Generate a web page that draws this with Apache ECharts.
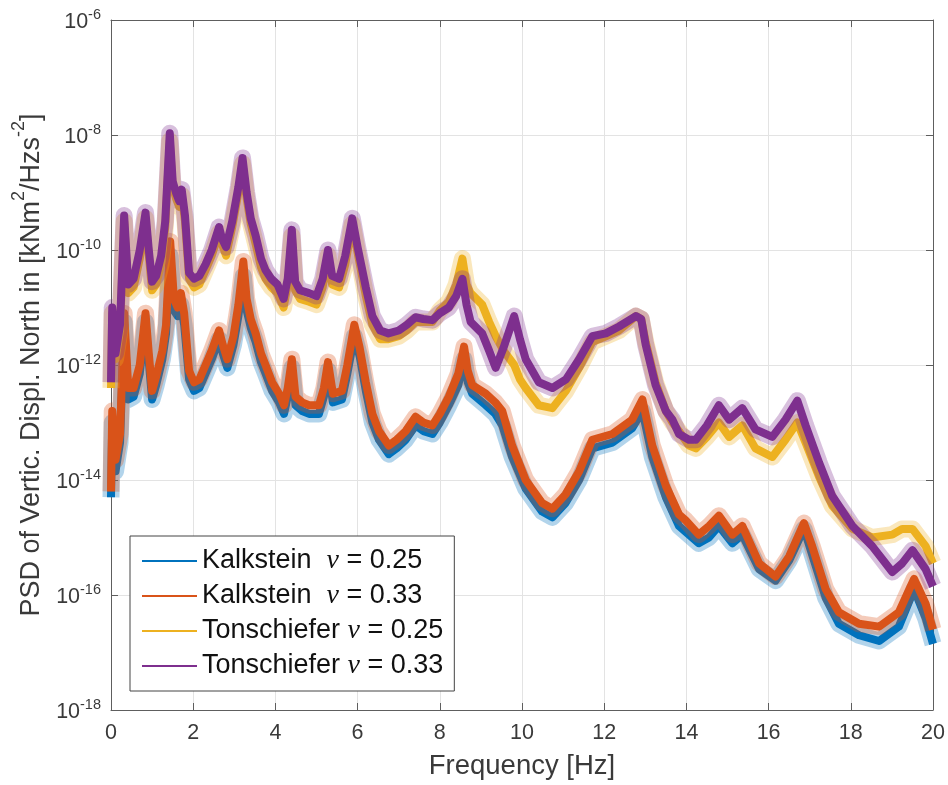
<!DOCTYPE html>
<html>
<head>
<meta charset="utf-8">
<script src="https://cdn.jsdelivr.net/npm/echarts@6/dist/echarts.min.js"></script>
<style>
  html, body { margin: 0; padding: 0; background: #fff; }
  #chart { width: 948px; height: 785px; }
</style>
</head>
<body>
<div id="chart"></div>
<script>
// PSD of vertical displacement (north), stored as log10 of kNm^2/Hzs^-2
// Frequency axis ticks
const xTicks = [0, 2, 4, 6, 8, 10, 12, 14, 16, 18, 20];
// Decade exponents shown on the y axis
const yExponents = [-18, -16, -14, -12, -10, -8, -6];

// Tonschiefer (both nu) sample frequencies [Hz]
const freqTon = [0.00, 0.03, 0.11, 0.22, 0.32, 0.42, 0.55, 0.70, 0.84, 0.92, 1.00, 1.10, 1.22, 1.32, 1.43, 1.50, 1.58, 1.66, 1.72, 1.80, 1.90, 2.02, 2.15, 2.30, 2.45, 2.63, 2.70, 2.80, 2.95, 3.10, 3.20, 3.30, 3.40, 3.52, 3.65, 3.76, 3.90, 4.05, 4.20, 4.30, 4.40, 4.48, 4.60, 4.82, 5.00, 5.15, 5.28, 5.38, 5.55, 5.70, 5.87, 6.00, 6.20, 6.36, 6.55, 6.75, 7.00, 7.20, 7.41, 7.60, 7.82, 8.00, 8.22, 8.40, 8.55, 8.65, 8.75, 9.03, 9.20, 9.36, 9.55, 9.81, 9.95, 10.09, 10.41, 10.74, 11.07, 11.39, 11.71, 12.04, 12.36, 12.77, 12.90, 13.01, 13.25, 13.50, 13.66, 13.82, 14.06, 14.23, 14.50, 14.79, 15.04, 15.36, 15.68, 16.09, 16.41, 16.70, 16.90, 17.23, 17.55, 18.04, 18.52, 19.01, 19.25, 19.50, 19.82, 20.00];

// Tonschiefer nu = 0.33
const ton033 = [-12.3, -11.0, -11.8, -11.3, -9.4, -10.6, -10.5, -10.0, -9.35, -10.0, -10.55, -10.45, -10.1, -9.5, -7.97, -8.8, -9.0, -9.15, -8.95, -9.4, -10.4, -10.5, -10.45, -10.25, -10.0, -9.6, -9.8, -9.95, -9.5, -8.9, -8.4, -9.0, -9.45, -9.75, -10.15, -10.35, -10.5, -10.6, -10.85, -10.5, -9.65, -10.55, -10.7, -10.75, -10.8, -10.5, -10.0, -10.45, -10.5, -10.1, -9.45, -9.95, -10.65, -11.15, -11.4, -11.45, -11.4, -11.3, -11.17, -11.2, -11.22, -11.1, -11.0, -10.8, -10.5, -10.95, -11.25, -11.45, -11.75, -12.05, -11.7, -11.15, -11.55, -11.9, -12.3, -12.4, -12.25, -11.9, -11.5, -11.45, -11.33, -11.15, -11.2, -11.65, -12.35, -12.8, -12.95, -13.2, -13.3, -13.3, -13.05, -12.7, -12.95, -12.75, -13.12, -13.25, -12.95, -12.62, -13.05, -13.7, -14.28, -14.8, -15.15, -15.6, -15.45, -15.22, -15.55, -15.85];

// Tonschiefer nu = 0.25
const ton025 = [-12.4, -11.1, -11.9, -11.4, -9.5, -10.75, -10.65, -10.15, -9.45, -10.1, -10.7, -10.6, -10.25, -9.6, -8.1, -8.9, -9.1, -9.25, -9.05, -9.5, -10.5, -10.65, -10.6, -10.35, -10.1, -9.7, -9.9, -10.1, -9.6, -9.0, -8.5, -9.1, -9.55, -9.9, -10.3, -10.5, -10.65, -10.75, -11.0, -10.6, -9.75, -10.7, -10.85, -10.9, -10.95, -10.65, -10.1, -10.6, -10.65, -10.25, -9.55, -10.05, -10.8, -11.3, -11.55, -11.55, -11.5, -11.4, -11.25, -11.25, -11.25, -11.05, -10.9, -10.6, -10.15, -10.6, -10.75, -10.95, -11.25, -11.5, -11.75, -12.0, -12.25, -12.4, -12.7, -12.75, -12.45, -12.05, -11.6, -11.5, -11.4, -11.15, -11.2, -11.6, -12.3, -12.8, -13.0, -13.15, -13.4, -13.45, -13.25, -13.0, -13.25, -13.05, -13.45, -13.6, -13.3, -13.0, -13.35, -13.95, -14.45, -14.85, -15.0, -14.95, -14.85, -14.85, -15.15, -15.45];

// Kalkstein (both nu) sample frequencies [Hz]
const freqKalk = [0.00, 0.03, 0.11, 0.22, 0.32, 0.42, 0.55, 0.70, 0.84, 0.92, 1.00, 1.10, 1.25, 1.34, 1.44, 1.53, 1.62, 1.70, 1.78, 1.90, 2.02, 2.15, 2.30, 2.45, 2.63, 2.72, 2.83, 2.98, 3.10, 3.22, 3.30, 3.40, 3.52, 3.65, 3.76, 3.92, 4.09, 4.21, 4.30, 4.40, 4.49, 4.65, 4.82, 5.06, 5.18, 5.28, 5.40, 5.62, 5.75, 5.92, 6.05, 6.20, 6.36, 6.52, 6.76, 6.95, 7.17, 7.41, 7.60, 7.82, 8.00, 8.22, 8.45, 8.59, 8.68, 8.79, 9.12, 9.35, 9.52, 9.76, 10.09, 10.49, 10.74, 11.06, 11.39, 11.71, 12.20, 12.68, 12.93, 13.17, 13.50, 13.82, 13.98, 14.30, 14.55, 14.79, 15.12, 15.36, 15.77, 16.17, 16.50, 16.86, 17.06, 17.39, 17.71, 18.20, 18.69, 19.17, 19.54, 19.82, 20.00];

// Kalkstein nu = 0.33
const kalk033 = [-14.2, -12.8, -13.65, -13.2, -11.1, -12.4, -12.4, -12.0, -11.1, -11.8, -12.45, -12.2, -11.75, -11.3, -9.85, -10.85, -11.0, -10.75, -11.1, -12.1, -12.3, -12.25, -12.0, -11.75, -11.4, -11.65, -11.9, -11.5, -10.95, -10.2, -10.85, -11.2, -11.45, -11.8, -12.0, -12.3, -12.5, -12.7, -12.4, -11.9, -12.55, -12.65, -12.7, -12.7, -12.4, -11.95, -12.5, -12.45, -12.0, -11.3, -11.7, -12.3, -12.85, -13.15, -13.4, -13.3, -13.15, -12.9, -13.0, -13.05, -12.85, -12.55, -12.15, -11.68, -12.1, -12.35, -12.5, -12.65, -12.8, -13.4, -14.0, -14.4, -14.5, -14.25, -13.85, -13.3, -13.2, -12.95, -12.6, -13.4, -14.1, -14.6, -14.7, -14.95, -14.8, -14.62, -14.95, -14.8, -15.45, -15.68, -15.33, -14.75, -15.15, -15.9, -16.3, -16.5, -16.55, -16.3, -15.72, -16.15, -16.6];

// Kalkstein nu = 0.25
const kalk025 = [-14.3, -13.0, -13.85, -13.35, -11.25, -12.6, -12.55, -12.15, -11.25, -11.95, -12.6, -12.35, -11.9, -11.45, -10.1, -11.05, -11.15, -10.95, -11.3, -12.25, -12.45, -12.4, -12.15, -11.9, -11.55, -11.8, -12.05, -11.65, -11.15, -10.45, -11.05, -11.35, -11.6, -11.95, -12.15, -12.45, -12.65, -12.85, -12.55, -12.05, -12.7, -12.8, -12.85, -12.85, -12.55, -12.1, -12.65, -12.6, -12.15, -11.5, -11.85, -12.45, -13.0, -13.3, -13.55, -13.45, -13.3, -13.05, -13.15, -13.2, -13.0, -12.7, -12.35, -11.9, -12.3, -12.5, -12.7, -12.85, -13.05, -13.6, -14.15, -14.55, -14.65, -14.4, -14.0, -13.45, -13.35, -13.1, -12.8, -13.6, -14.3, -14.8, -14.9, -15.1, -15.0, -14.8, -15.1, -14.95, -15.55, -15.75, -15.4, -14.85, -15.3, -16.05, -16.5, -16.7, -16.8, -16.55, -15.9, -16.4, -16.85];

const seriesNames = [
  'Kalkstein  ν = 0.25',
  'Kalkstein  ν = 0.33',
  'Tonschiefer ν = 0.25',
  'Tonschiefer ν = 0.33'
];
const seriesColors = ['#0072BD', '#D95319', '#EDB120', '#7E2F8E'];

const pairs = (xs, ys) => xs.map((x, i) => [x, ys[i]]);
const seriesData = [
  pairs(freqKalk, kalk025),
  pairs(freqKalk, kalk033),
  pairs(freqTon, ton025),
  pairs(freqTon, ton033)
];

const FONT = 'Liberation Sans, Arial, Helvetica, sans-serif';
const AXIS_COLOR = '#5e5e5e';
const TEXT_COLOR = '#3a3a3a';
const GRID_COLOR = '#e3e3e3';

const chart = echarts.init(document.getElementById('chart'), null, { renderer: 'canvas' });

const expLabel = v => '{b|10}{e|' + v + '}';

// Each PSD is drawn as a soft, wide spread band beneath a solid core line
const bandSeries = seriesNames.map((name, i) => ({
  name: name + ' (spread)',
  type: 'line',
  data: seriesData[i],
  symbol: 'none',
  silent: true,
  color: seriesColors[i],
  lineStyle: { color: seriesColors[i], width: 17, opacity: 0.3, join: 'round' },
  z: 2 + 2 * i
}));
const coreSeries = seriesNames.map((name, i) => ({
  name: name,
  type: 'line',
  data: seriesData[i],
  symbol: 'none',
  color: seriesColors[i],
  lineStyle: { color: seriesColors[i], width: 8, join: 'round' },
  z: 3 + 2 * i
}));

const option = {
  animation: false,
  backgroundColor: '#ffffff',
  grid: { left: 111, right: 15, top: 20, bottom: 73, containLabel: false },
  legend: {
    data: seriesNames,
    orient: 'vertical',
    left: 130,
    top: 536,
    icon: 'rect',
    itemWidth: 55,
    itemHeight: 2,
    itemGap: 7,
    padding: [11, 11, 11, 12],
    backgroundColor: '#ffffff',
    borderColor: '#444444',
    borderWidth: 1,
    borderRadius: 0,
    z: 20,
    formatter: name => name.replace('ν', '{nu|ν}'),
    textStyle: {
      color: '#111111',
      fontFamily: FONT,
      fontSize: 27,
      lineHeight: 28,
      rich: {
        nu: { fontFamily: 'Liberation Serif, Times New Roman, serif', fontStyle: 'italic', fontSize: 28, color: '#111111', lineHeight: 28 }
      }
    }
  },
  xAxis: [
    {
      type: 'value',
      min: 0,
      max: 20,
      interval: 2,
      name: 'Frequency [Hz]',
      nameLocation: 'middle',
      nameGap: 42,
      nameTextStyle: { fontFamily: FONT, fontSize: 27.5, color: TEXT_COLOR },
      axisLine: { show: true, lineStyle: { color: AXIS_COLOR, width: 1 } },
      axisTick: { show: true, inside: true, length: 7, lineStyle: { color: AXIS_COLOR } },
      axisLabel: {
        margin: 12,
        fontFamily: FONT,
        fontSize: 21.5,
        color: TEXT_COLOR,
        formatter: v => xTicks.includes(v) ? String(v) : ''
      },
      splitLine: { show: true, lineStyle: { color: GRID_COLOR, width: 1 } }
    },
    {
      type: 'value',
      position: 'top',
      min: 0,
      max: 20,
      interval: 2,
      axisLine: { show: true, onZero: false, lineStyle: { color: AXIS_COLOR, width: 1 } },
      axisTick: { show: true, inside: true, length: 7, lineStyle: { color: AXIS_COLOR } },
      axisLabel: { show: false },
      splitLine: { show: false }
    }
  ],
  yAxis: [
    {
      type: 'value',
      min: yExponents[0],
      max: yExponents[yExponents.length - 1],
      interval: 2,
      name: '{t|PSD of Vertic. Displ. North in [kNm}{s|2}{t|/Hzs}{s|-2}{t|]}',
      nameLocation: 'middle',
      nameRotate: 90,
      nameGap: 64,
      nameTextStyle: {
        rich: {
          t: { fontFamily: FONT, fontSize: 27, color: TEXT_COLOR, lineHeight: 35, verticalAlign: 'bottom' },
          s: { fontFamily: FONT, fontSize: 18, color: TEXT_COLOR, lineHeight: 35, verticalAlign: 'top' }
        }
      },
      axisLine: { show: true, onZero: false, lineStyle: { color: AXIS_COLOR, width: 1 } },
      axisTick: { show: true, inside: true, length: 7, lineStyle: { color: AXIS_COLOR } },
      axisLabel: {
        margin: 10,
        formatter: v => yExponents.includes(v) ? expLabel(v) : '',
        rich: {
          b: { fontFamily: FONT, fontSize: 21.5, color: TEXT_COLOR, lineHeight: 26, verticalAlign: 'bottom' },
          e: { fontFamily: FONT, fontSize: 14.5, color: TEXT_COLOR, lineHeight: 26, verticalAlign: 'top' }
        }
      },
      splitLine: { show: true, lineStyle: { color: GRID_COLOR, width: 1 } }
    },
    {
      type: 'value',
      position: 'right',
      min: yExponents[0],
      max: yExponents[yExponents.length - 1],
      interval: 2,
      axisLine: { show: true, onZero: false, lineStyle: { color: AXIS_COLOR, width: 1 } },
      axisTick: { show: true, inside: true, length: 7, lineStyle: { color: AXIS_COLOR } },
      axisLabel: { show: false },
      splitLine: { show: false }
    }
  ],
  series: [
    bandSeries[0], coreSeries[0],
    bandSeries[1], coreSeries[1],
    bandSeries[2], coreSeries[2],
    bandSeries[3], coreSeries[3]
  ]
};

chart.setOption(option);
</script>
</body>
</html>
